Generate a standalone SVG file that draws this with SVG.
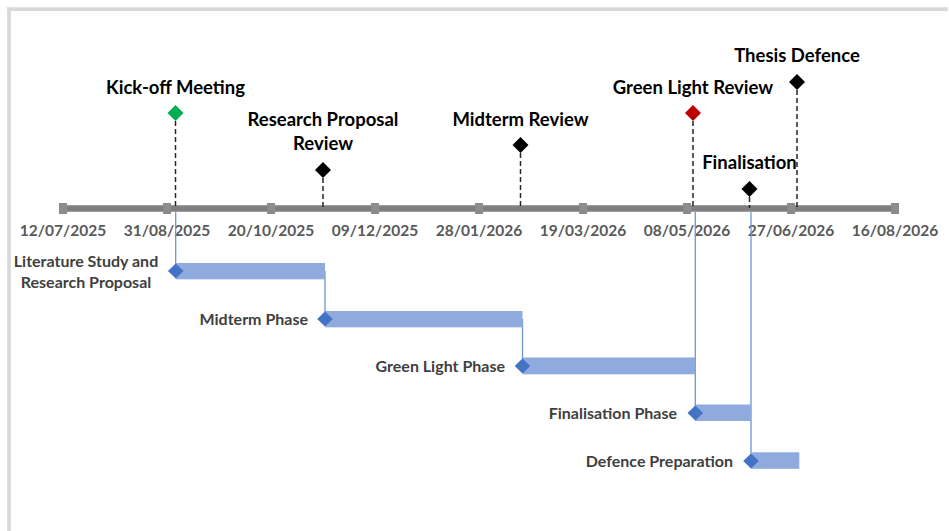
<svg xmlns="http://www.w3.org/2000/svg" width="949" height="531" viewBox="0 0 949 531">
<defs>
<style>
.frame{stroke:#d9d9d9;stroke-width:3.7;fill:none}
.axis{stroke:#7f7f7f;stroke-width:6.5}
.tick{fill:#8c8c8c}
.date{font-family:Lato,"Liberation Sans",sans-serif;font-weight:bold;font-size:15.5px;fill:#595959;text-anchor:middle}
.title{font-family:Lato,"Liberation Sans",sans-serif;font-weight:bold;font-size:18.5px;fill:#000;text-anchor:middle}
.task{font-family:Lato,"Liberation Sans",sans-serif;font-weight:bold;font-size:16px;fill:#404040;text-anchor:end}
.stem{stroke:#262626;stroke-width:1.5;stroke-dasharray:5 3}
.link{stroke:#6f94d8;stroke-width:1.3;fill:none}
.bar{fill:#8faadc}
.tdia{fill:#4472c4}
</style>
</defs>
<line class="frame" x1="7" y1="9.2" x2="948" y2="9.2"/>
<line class="frame" x1="9" y1="7.3" x2="9" y2="531"/>

<g id="axis">
<line class="axis" x1="63" y1="208.5" x2="895" y2="208.5"/>
<rect class="tick" x="59" y="203" width="8" height="11"/>
<rect class="tick" x="163" y="203" width="8" height="11"/>
<rect class="tick" x="267" y="203" width="8" height="11"/>
<rect class="tick" x="371" y="203" width="8" height="11"/>
<rect class="tick" x="475" y="203" width="8" height="11"/>
<rect class="tick" x="579" y="203" width="8" height="11"/>
<rect class="tick" x="683" y="203" width="8" height="11"/>
<rect class="tick" x="787" y="203" width="8" height="11"/>
<rect class="tick" x="891" y="203" width="8" height="11"/>
<text class="date" x="63" y="236">12/07/2025</text>
<text class="date" x="167" y="236">31/08/2025</text>
<text class="date" x="271" y="236">20/10/2025</text>
<text class="date" x="375" y="236">09/12/2025</text>
<text class="date" x="479" y="236">28/01/2026</text>
<text class="date" x="583" y="236">19/03/2026</text>
<text class="date" x="687" y="236">08/05/2026</text>
<text class="date" x="791" y="236">27/06/2026</text>
<text class="date" x="895" y="236">16/08/2026</text>
</g>

<g id="connectors">
<line class="stem" x1="175.5" y1="121" x2="175.5" y2="208"/>
<line class="stem" x1="323" y1="178" x2="323" y2="208"/>
<line class="stem" x1="520.5" y1="153" x2="520.5" y2="208"/>
<line class="stem" x1="693" y1="121" x2="693" y2="208"/>
<line class="stem" x1="749.5" y1="197" x2="749.5" y2="208"/>
<line class="stem" x1="797" y1="90" x2="797" y2="208"/>
<line class="link" x1="175.7" y1="212" x2="175.7" y2="271"/>
<line class="link" x1="325" y1="271" x2="325" y2="319"/>
<line class="link" x1="522.5" y1="319" x2="522.5" y2="366"/>
<line class="link" x1="695.3" y1="212" x2="695.3" y2="413"/>
<line class="link" x1="751" y1="212" x2="751" y2="461"/>
</g>

<g id="m-kickoff">
<path d="M175.5 105 L183.5 113 L175.5 121 L167.5 113 Z" fill="#00b050"/>
<text class="title" x="175.5" y="94">Kick-off Meeting</text>
</g>
<g id="m-proposal">
<path d="M323 162 L331 170 L323 178 L315 170 Z" fill="#000"/>
<text class="title" x="323" y="126">Research Proposal</text>
<text class="title" x="323" y="150">Review</text>
</g>
<g id="m-midterm">
<path d="M520.5 137 L528.5 145 L520.5 153 L512.5 145 Z" fill="#000"/>
<text class="title" x="520.5" y="126">Midterm Review</text>
</g>
<g id="m-greenlight">
<path d="M693 105 L701 113 L693 121 L685 113 Z" fill="#c00000"/>
<text class="title" x="693" y="94">Green Light Review</text>
</g>
<g id="m-finalisation">
<path d="M749.5 181 L757.5 189 L749.5 197 L741.5 189 Z" fill="#000"/>
<text class="title" x="749.5" y="169">Finalisation</text>
</g>
<g id="m-defence">
<path d="M797 74 L805 82 L797 90 L789 82 Z" fill="#000"/>
<text class="title" x="797" y="62">Thesis Defence</text>
</g>

<g id="t-literature">
<rect class="bar" x="175.7" y="263" width="149.3" height="16.3"/>
<path class="tdia" d="M175.7 263.5 L183.5 271 L175.7 278.5 L167.9 271 Z"/>
<text class="task" x="86" y="267" style="text-anchor:middle">Literature Study and</text>
<text class="task" x="86" y="288" style="text-anchor:middle">Research Proposal</text>
</g>
<g id="t-midterm">
<rect class="bar" x="325" y="311" width="197.5" height="16.3"/>
<path class="tdia" d="M325 311.5 L332.8 319 L325 326.5 L317.2 319 Z"/>
<text class="task" x="308" y="325">Midterm Phase</text>
</g>
<g id="t-greenlight">
<rect class="bar" x="522.5" y="357.5" width="172.8" height="16.8"/>
<path class="tdia" d="M522.5 358.5 L530.3 366 L522.5 373.5 L514.7 366 Z"/>
<text class="task" x="505" y="372">Green Light Phase</text>
</g>
<g id="t-finalisation">
<rect class="bar" x="695.3" y="404.5" width="55.7" height="16.5"/>
<path class="tdia" d="M695.3 405.5 L703.1 413 L695.3 420.5 L687.5 413 Z"/>
<text class="task" x="677" y="419">Finalisation Phase</text>
</g>
<g id="t-defence">
<rect class="bar" x="751" y="452.3" width="48.3" height="16.5"/>
<path class="tdia" d="M751 453.5 L758.8 461 L751 468.5 L743.2 461 Z"/>
<text class="task" x="733" y="467">Defence Preparation</text>
</g>
</svg>
